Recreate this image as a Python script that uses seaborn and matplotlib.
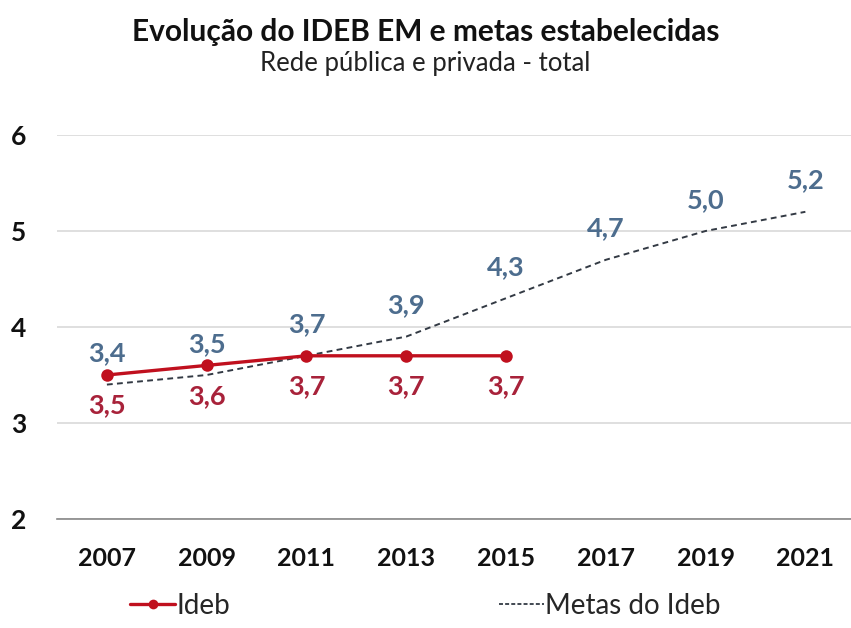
import matplotlib
matplotlib.use("Agg")
import matplotlib.pyplot as plt
import seaborn as sns
from matplotlib.lines import Line2D

# data
anos = ["2007", "2009", "2011", "2013", "2015", "2017", "2019", "2021"]
ideb = [3.5, 3.6, 3.7, 3.7, 3.7]
metas = [3.4, 3.5, 3.7, 3.9, 4.3, 4.7, 5.0, 5.2]

cor_ideb = "#c0101e"
cor_ideb_txt = "#a8223a"
cor_meta_txt = "#4d6d8e"
cor_meta = "#333a44"

sns.set_theme(style="white")
plt.rcParams["font.family"] = ["Lato", "DejaVu Sans"]

fig = plt.figure(figsize=(8.51, 6.28), dpi=100)
ax = fig.add_axes([57 / 851, 1 - 519 / 628, 1 - 57 / 851 + 0.005, 384 / 628])

pos = list(range(len(anos)))
sns.lineplot(x=pos, y=metas, ax=ax, color=cor_meta, lw=1.4,
             linestyle=(0, (3, 2.2)), zorder=2)
sns.lineplot(x=pos[:len(ideb)], y=ideb, ax=ax, color=cor_ideb, lw=2.4,
             marker="o", markersize=9, markeredgewidth=0, zorder=3)

for i, v in enumerate(metas):
    ax.annotate(f"{v:.1f}".replace(".", ","), (i, v), xytext=(0, 22.5),
                textcoords="offset points", ha="center", va="center",
                fontsize=19.5, fontweight="bold", color=cor_meta_txt)
for i, v in enumerate(ideb):
    ax.annotate(f"{v:.1f}".replace(".", ","), (i, v), xytext=(0, -22),
                textcoords="offset points", ha="center", va="center",
                fontsize=19.5, fontweight="bold", color=cor_ideb_txt)

ax.set_xlim(-0.5, len(anos) - 0.5)
ax.set_ylim(2, 6)
ax.set_yticks([2, 3, 4, 5, 6])
ax.set_yticklabels(["2", "3", "4", "5", "6"], fontsize=19, fontweight="bold")
ax.set_xticks(pos)
ax.set_xticklabels(anos, fontsize=18, fontweight="bold")
ax.set_xticks([p - 0.5 for p in pos] + [len(anos) - 0.5], minor=True)
ax.tick_params(axis="x", which="major", length=0, pad=20, colors="#111111")
ax.tick_params(axis="x", which="minor", length=7, direction="out", color="#888888", width=1)
ax.tick_params(axis="y", length=0, pad=33, colors="#111111")
for lbl in ax.get_yticklabels():
    lbl.set_horizontalalignment("left")
ax.yaxis.grid(True, color="#d9d9d9", lw=1.2)
ax.xaxis.grid(False)
for s in ["top", "right", "left"]:
    ax.spines[s].set_visible(False)
ax.spines["bottom"].set_color("#888888")
ax.spines["bottom"].set_linewidth(1.2)
ax.set_xlabel("")
ax.set_ylabel("")

fig.text(0.5, 1 - 32 / 628, "Evolução do IDEB EM e metas estabelecidas",
         ha="center", va="center", fontsize=21.5, fontweight="bold", color="#111111")
fig.text(0.5, 1 - 63 / 628, "Rede pública e privada - total",
         ha="center", va="center", fontsize=18.5, color="#222222")

handles = [
    Line2D([], [], color=cor_ideb, lw=2.4, marker="o", markersize=7, markeredgewidth=0),
    Line2D([], [], color=cor_meta, lw=1.3, linestyle=(0, (2.2, 1.2))),
]
fig.legend(handles, ["Ideb", "Metas do Ideb"], loc="center",
           bbox_to_anchor=(0.5, 1 - 606 / 628), ncol=2, frameon=False,
           fontsize=20, handlelength=1.6, handletextpad=0.05, columnspacing=9.7)

fig.savefig("out.png", dpi=100)
